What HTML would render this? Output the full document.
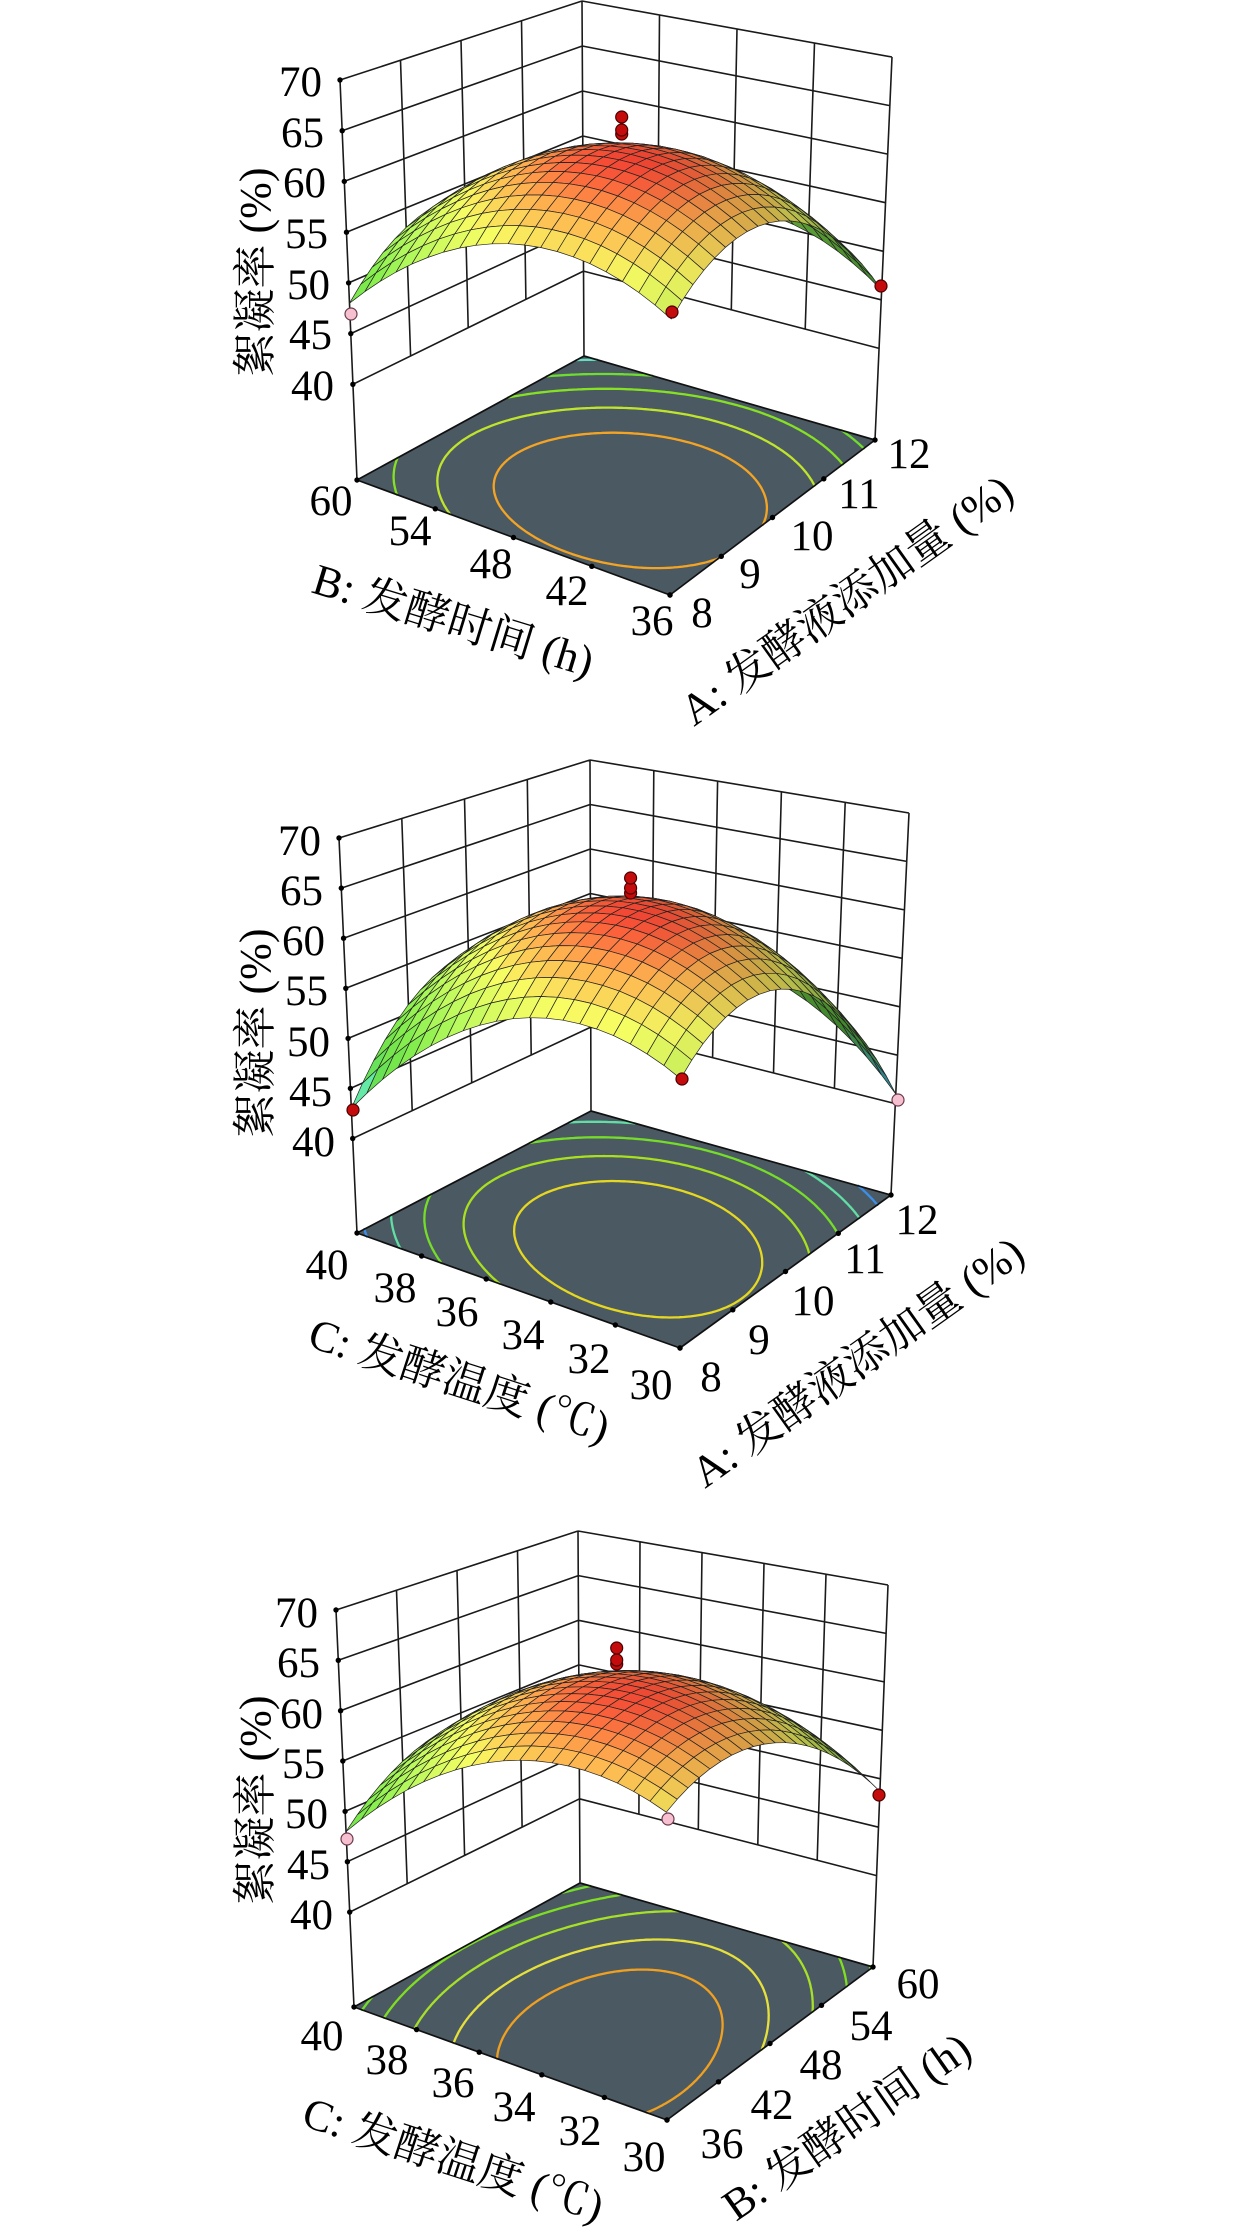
<!DOCTYPE html>
<html><head><meta charset="utf-8">
<style>
html,body{margin:0;padding:0;background:#fff;}
svg{display:block;}
.tx{font-family:"Liberation Serif","Noto Serif CJK SC","Noto Sans CJK SC",serif;fill:#000;}
</style></head>
<body>
<svg id="svg" width="1260" height="2235" viewBox="0 0 1260 2235" xmlns="http://www.w3.org/2000/svg">
<rect width="1260" height="2235" fill="#fff"/>
<g id="plot"></g>
<g class="tx">
 <g font-size="43" text-anchor="end">
  <text x="322" y="96">70</text><text x="324" y="147">65</text><text x="326" y="197">60</text><text x="328" y="248">55</text><text x="330" y="299">50</text><text x="332" y="349">45</text><text x="334" y="400">40</text>
  <text x="321" y="855">70</text><text x="323" y="905">65</text><text x="325" y="955">60</text><text x="328" y="1005">55</text><text x="330" y="1056">50</text><text x="332" y="1106">45</text><text x="335" y="1156">40</text>
  <text x="318" y="1627">70</text><text x="320" y="1677">65</text><text x="323" y="1728">60</text><text x="325" y="1778">55</text><text x="328" y="1828">50</text><text x="330" y="1879">45</text><text x="333" y="1929">40</text>
 </g>
 <g font-size="43" text-anchor="middle">
  <text x="331" y="515">60</text><text x="410" y="545">54</text><text x="491" y="578">48</text><text x="567" y="605">42</text><text x="652" y="635">36</text>
  <text x="702" y="627">8</text><text x="750" y="588">9</text><text x="812" y="550">10</text><text x="859" y="508">11</text><text x="909" y="468">12</text>
  <text x="327" y="1279">40</text><text x="395" y="1302">38</text><text x="457" y="1326">36</text><text x="523" y="1349">34</text><text x="589" y="1373">32</text><text x="651" y="1399">30</text>
  <text x="711" y="1391">8</text><text x="759" y="1354">9</text><text x="813" y="1315">10</text><text x="865" y="1273">11</text><text x="917" y="1234">12</text>
  <text x="322" y="2050">40</text><text x="387" y="2074">38</text><text x="453" y="2097">36</text><text x="514" y="2121">34</text><text x="580" y="2145">32</text><text x="644" y="2171">30</text>
  <text x="722" y="2158">36</text><text x="772" y="2119">42</text><text x="821" y="2079">48</text><text x="871" y="2040">54</text><text x="918" y="1998">60</text>
 </g>
 <g font-size="44">
  <text text-anchor="middle" transform="translate(270,272) rotate(-90)">絮凝率 (%)</text>
  <text transform="translate(310,592) rotate(17)">B: 发酵时间 (h)</text>
  <text transform="translate(694,727) rotate(-35.5)">A: 发酵液添加量 (%)</text>
  <text text-anchor="middle" transform="translate(270,1033) rotate(-90)">絮凝率 (%)</text>
  <text transform="translate(306,1346) rotate(18)">C: 发酵温度 (℃)</text>
  <text transform="translate(705,1489) rotate(-35.5)">A: 发酵液添加量 (%)</text>
  <text text-anchor="middle" transform="translate(270,1800) rotate(-90)">絮凝率 (%)</text>
  <text transform="translate(300,2125) rotate(18)">C: 发酵温度 (℃)</text>
  <text transform="translate(736,2222) rotate(-35)">B: 发酵时间 (h)</text>
 </g>
</g>
</svg>
<script>
(function(){
var NS='http://www.w3.org/2000/svg';
var S=document.getElementById('plot');
function mk(t,a,p){var e=document.createElementNS(NS,t);for(var k in a)e.setAttribute(k,a[k]);(p||S).appendChild(e);return e;}
var ZF=30.57,ZT=70;
var charts=[
 {F:[670,595],R:[875,440],L:[357,480],K:[584,356],Ft:[672,167],Rt:[892,57],Lt:[340,80],Kt:[582,1],
  nu:4,nv:4,c:[63.2,-3.75,-2.75,-8.4,-6.55,1.25],cc:[62.5,-3.75,-2.75,-8,-6.25,1.25],zlo:40,zhi:64,
  lev:[[59.4,'#f4a424'],[55.6,'#c0e42c'],[51.8,'#86e024'],[48.2,'#6edc30'],[44.2,'#66dcc0']],
  dots:[[351,314,'p'],[672,312,'r'],[881,286,'r'],[621.7,134,'r'],[621.7,130,'r'],[621.7,117,'r']]},
 {F:[680,1348],R:[891,1195],L:[357,1233],K:[591,1111],Ft:[681,922],Rt:[909,813],Lt:[339,838],Kt:[590,760],
  nu:4,nv:5,c:[63.4,-3.125,-2.125,-9.85,-7.425,4.125],cc:[62.8,-3.125,-2.125,-9.5,-7.2,4.125],zlo:40,zhi:64,
  lev:[[59.4,'#e6d820'],[55.6,'#a8e020'],[51.8,'#76dc2a'],[48,'#62dea4'],[44.2,'#3c8ee8']],
  dots:[[353,1110,'r'],[682,1079,'r'],[898,1100,'p'],[630.6,893,'r'],[630.6,888,'r'],[630.6,878,'r']]},
 {F:[667,2120],R:[873,1967],L:[354,2007],K:[580,1883],Ft:[666,1693],Rt:[888,1585],Lt:[336,1610],Kt:[578,1531],
  nu:4,nv:5,c:[63.0,-2.575,-2.925,-6.04,-6.04,2.575],cc:[61.3,-2.575,-2.925,-3.35,-7.02,2.575],zlo:40,zhi:64,
  lev:[[60,'#f0a020'],[57.6,'#e6e03c'],[54.5,'#a6e028'],[51.5,'#80de22'],[49,'#74dc2c']],
  dots:[[347,1839,'p'],[668,1819,'p'],[879,1795,'r'],[616.7,1664,'r'],[616.7,1660,'r'],[616.7,1648,'r']]}
];
function bil(A,B,C,D,u,v){
 return [A[0]*(1-u)*(1-v)+B[0]*u*(1-v)+C[0]*(1-u)*v+D[0]*u*v,
         A[1]*(1-u)*(1-v)+B[1]*u*(1-v)+C[1]*(1-u)*v+D[1]*u*v];
}
function P(ch,u,v,z){
 var w=(z-ZF)/(ZT-ZF);
 var a=bil(ch.F,ch.R,ch.L,ch.K,u,v),b=bil(ch.Ft,ch.Rt,ch.Lt,ch.Kt,u,v);
 return [a[0]+(b[0]-a[0])*w,a[1]+(b[1]-a[1])*w];
}
function Z(c,u,v){var x=2*u-1,y=2*v-1;return c[0]+c[1]*x+c[2]*y+c[3]*x*x+c[4]*y*y+c[5]*x*y;}
var PAL=[[0,[30,50,230]],[0.06,[40,120,235]],[0.13,[80,220,230]],[0.22,[100,225,150]],[0.30,[100,215,70]],
 [0.45,[130,230,75]],[0.60,[178,240,90]],[0.77,[238,243,95]],[0.90,[245,165,75]],[1,[240,65,50]]];
function cmap(t){
 t=Math.max(0,Math.min(1,t));
 for(var i=0;i<PAL.length-1;i++){
  if(t<=PAL[i+1][0]){var f=(t-PAL[i][0])/(PAL[i+1][0]-PAL[i][0]);
   return [0,1,2].map(function(k){return PAL[i][1][k]+(PAL[i+1][1][k]-PAL[i][1][k])*f;});}
 }
 return PAL[PAL.length-1][1].slice();
}
function f1(p){return p[0].toFixed(1)+' '+p[1].toFixed(1);}
var Lg=[-0.5,0.25,0.8];var ll=Math.sqrt(Lg[0]*Lg[0]+Lg[1]*Lg[1]+Lg[2]*Lg[2]);Lg=Lg.map(function(v){return v/ll;});

charts.forEach(function(ch){
 var g=mk('g',{});
 var Pt=function(u,v,z){return P(ch,u,v,z);};
 var fs=function(u,v){return Z(ch.c,u,v);};
 var fc=function(u,v){return Z(ch.cc||ch.c,u,v);};
 var fl=[ch.F,ch.R,ch.K,ch.L].map(function(p){return p.join(',');}).join(' ');
 mk('polygon',{points:fl,fill:'#4b5a62',stroke:'none'},g);
 var M=110,val=[],i,j;
 for(i=0;i<=M;i++){val[i]=[];for(j=0;j<=M;j++)val[i][j]=fc(i/M,j/M);}
 ch.lev.forEach(function(lv){
  var L=lv[0],d='';
  for(var i=0;i<M;i++)for(var j=0;j<M;j++){
   var a=val[i][j]-L,b=val[i+1][j]-L,c=val[i+1][j+1]-L,e=val[i][j+1]-L,pts=[],t;
   if((a>0)!=(b>0)){t=a/(a-b);pts.push([(i+t)/M,j/M]);}
   if((b>0)!=(c>0)){t=b/(b-c);pts.push([(i+1)/M,(j+t)/M]);}
   if((c>0)!=(e>0)){t=c/(c-e);pts.push([(i+1-t)/M,(j+1)/M]);}
   if((e>0)!=(a>0)){t=e/(e-a);pts.push([i/M,(j+1-t)/M]);}
   for(var k=0;k+1<pts.length;k+=2){
    d+='M'+f1(Pt(pts[k][0],pts[k][1],ZF))+'L'+f1(Pt(pts[k+1][0],pts[k+1][1],ZF));
   }
  }
  mk('path',{d:d,fill:'none',stroke:lv[1],'stroke-width':2.3,'stroke-linecap':'round'},g);
 });
 mk('polygon',{points:fl,fill:'none',stroke:'#111','stroke-width':1.7,'stroke-linejoin':'round'},g);
 var d='';
 var ln=function(a,b){d+='M'+f1(a)+'L'+f1(b);};
 for(var z=40;z<=70;z+=5){ln(Pt(0,1,z),Pt(1,1,z));ln(Pt(1,1,z),Pt(1,0,z));}
 for(var k=1;k<ch.nu;k++)ln(Pt(k/ch.nu,1,40),Pt(k/ch.nu,1,70));
 for(k=1;k<ch.nv;k++)ln(Pt(1,k/ch.nv,40),Pt(1,k/ch.nv,70));
 ln(Pt(0,1,ZF),Pt(0,1,70));ln(Pt(1,1,ZF),Pt(1,1,70));ln(Pt(1,0,ZF),Pt(1,0,70));
 mk('path',{d:d,fill:'none',stroke:'#1a1a1a','stroke-width':1.6},g);
 var td=function(p){mk('circle',{cx:p[0].toFixed(1),cy:p[1].toFixed(1),r:2.7,fill:'#000'},g);};
 for(z=40;z<=70;z+=5)td(Pt(0,1,z));
 for(k=0;k<=ch.nv;k++)td(Pt(0,k/ch.nv,ZF));
 for(k=0;k<=ch.nu;k++)td(Pt(k/ch.nu,0,ZF));
 var N=20,zs=[],quads=[];
 for(i=0;i<=N;i++){zs[i]=[];for(j=0;j<=N;j++)zs[i][j]=fs(i/N,j/N);}
 var H=1/(ZT-ZF);
 for(i=0;i<N;i++)for(j=0;j<N;j++){
  var u0=i/N,u1=(i+1)/N,v0=j/N,v1=(j+1)/N;
  var z00=zs[i][j],z10=zs[i+1][j],z11=zs[i+1][j+1],z01=zs[i][j+1];
  var dzdu=((z10-z00)+(z11-z01))/2*N*H,dzdv=((z01-z00)+(z11-z10))/2*N*H;
  var n=[-dzdu,-dzdv,1],nl=Math.sqrt(n[0]*n[0]+n[1]*n[1]+1);
  var dd=Math.max(0,(n[0]*Lg[0]+n[1]*Lg[1]+n[2]*Lg[2])/nl);
  var sh=Math.min(1.04,0.6+0.48*dd);
  var zc=(z00+z10+z11+z01)/4;
  var col=cmap((zc-ch.zlo)/(ch.zhi-ch.zlo)).map(function(v){return Math.max(0,Math.min(255,Math.round(v*sh)));});
  var pts=[Pt(u0,v0,z00),Pt(u1,v0,z10),Pt(u1,v1,z11),Pt(u0,v1,z01)];
  quads.push({d:(u0+u1)/2+0.95*(v0+v1)/2,p:pts,c:'rgb('+col.join(',')+')'});
 }
 quads.sort(function(a,b){return b.d-a.d;});
 var sg=mk('g',{stroke:'#222','stroke-width':0.7,'stroke-linejoin':'round'},g);
 quads.forEach(function(q){
  mk('polygon',{points:q.p.map(function(p){return p[0].toFixed(1)+','+p[1].toFixed(1);}).join(' '),fill:q.c},sg);
 });
 ch.dots.forEach(function(dt){
  if(dt[2]=='r')mk('circle',{cx:dt[0],cy:dt[1],r:6,fill:'#c40c0c',stroke:'#4a0000','stroke-width':1.2},g);
  else mk('circle',{cx:dt[0],cy:dt[1],r:6,fill:'#f6c0d0',stroke:'#6a3a4a','stroke-width':1.2},g);
 });
});
})();
</script>
</body></html>
